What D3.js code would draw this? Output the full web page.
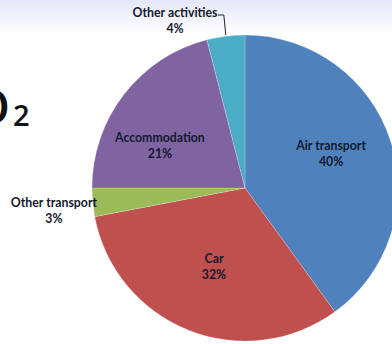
<!DOCTYPE html>
<html>
<head>
<meta charset="utf-8">
<script src="https://cdn.jsdelivr.net/npm/d3@7"></script>
<style>
  html, body { margin: 0; padding: 0; background: #fff; }
  svg { display: block; }
</style>
</head>
<body>
<div id="chart"></div>
<script>
// slices, clockwise from 12 o'clock
var categories = ["Air transport", "Car", "Other transport", "Accommodation", "Other activities"];
var shares = [40, 32, 3, 21, 4];
var colors = ["#4f81bd", "#c0504d", "#9bbb59", "#8064a2", "#4bacc6"];

var width = 392, height = 344,
    cx = 245, cy = 188, radius = 153;

var svg = d3.select("#chart")
  .append("svg")
    .attr("width", width)
    .attr("height", height);

// faint slide background fading from the top
var grad = svg.append("defs").append("linearGradient")
    .attr("id", "bg")
    .attr("x1", 0).attr("y1", 0).attr("x2", 0).attr("y2", 1);
grad.append("stop").attr("offset", "0%").attr("stop-color", "#e4e7f8");
grad.append("stop").attr("offset", "100%").attr("stop-color", "#ffffff");
svg.append("rect")
    .attr("width", width).attr("height", 34)
    .attr("fill", "url(#bg)");

// cut-off slide title (CO2), only the tail is visible
svg.append("text")
    .attr("x", 10)
    .attr("y", 124)
    .attr("text-anchor", "end")
    .style("font-family", "'Open Sans', sans-serif")
    .style("font-weight", "600")
    .style("font-size", "47px")
    .style("fill", "#111")
    .text("CO");
svg.append("text")
    .attr("x", 13)
    .attr("y", 126)
    .style("font-family", "'Open Sans', sans-serif")
    .style("font-weight", "600")
    .style("font-size", "29px")
    .style("fill", "#111")
    .text("2");

var data = categories.map(function(c, i) { return {name: c, value: shares[i], color: colors[i]}; });

var pie = d3.pie()
    .sort(null)
    .value(function(d) { return d.value; });

var arc = d3.arc()
    .innerRadius(0)
    .outerRadius(radius);

var g = svg.append("g")
    .attr("transform", "translate(" + cx + "," + cy + ")");

var arcs = pie(data);

g.selectAll("path")
  .data(arcs)
  .enter()
  .append("path")
    .attr("d", arc)
    .attr("fill", function(d) { return d.data.color; })
    .attr("stroke", "rgba(255,255,255,0.35)")
    .attr("stroke-width", 0.6);

// label placement: radius factor and angle nudge (degrees) per slice
var labelPlace = {
  "Air transport":    {r: 0.607, da: -4},
  "Car":              {r: 0.55,  da: 0},
  "Other transport":  {r: 1.257, da: -1.2},
  "Accommodation":    {r: 0.623, da: -11},
  "Other activities": {r: 1.19,  da: -15.4}
};

function polar(a, r) {
  return [Math.sin(a) * r, -Math.cos(a) * r];
}

var labels = g.selectAll("g.lbl")
  .data(arcs)
  .enter()
  .append("g")
    .attr("class", "lbl")
    .attr("transform", function(d) {
      var p = labelPlace[d.data.name];
      var mid = (d.startAngle + d.endAngle) / 2 + p.da * Math.PI / 180;
      var xy = polar(mid, radius * p.r);
      return "translate(" + xy[0] + "," + xy[1] + ")";
    });

labels.append("text")
    .attr("text-anchor", "middle")
    .attr("y", -3)
    .style("font-family", "Lato, sans-serif")
    .style("font-weight", "bold")
    .style("font-size", "12.3px")
    .style("fill", "#141a2e")
    .text(function(d) { return d.data.name; });

labels.append("text")
    .attr("text-anchor", "middle")
    .attr("y", 13)
    .style("font-family", "Lato, sans-serif")
    .style("font-weight", "bold")
    .style("font-size", "12.3px")
    .style("fill", "#141a2e")
    .text(function(d) { return d.data.value + "%"; });

// leader line for the small "Other activities" slice
var oa = arcs[4];
var oaMid = (oa.startAngle + oa.endAngle) / 2;
var edge = polar(oaMid, radius);
g.append("polyline")
    .attr("points", [
      [edge[0], edge[1] - 1],
      [edge[0] - 2, -173],
      [edge[0] - 8, -173]
    ].map(function(p) { return p.join(","); }).join(" "))
    .attr("fill", "none")
    .attr("stroke", "#222")
    .attr("stroke-width", 1);
</script>
</body>
</html>
